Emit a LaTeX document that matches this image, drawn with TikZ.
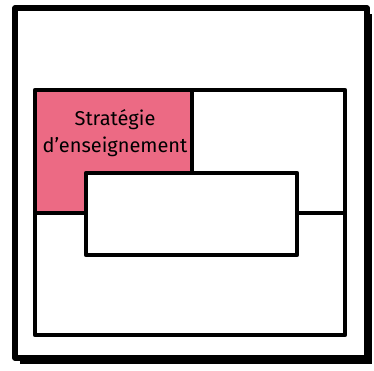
\documentclass[tikz,border=0pt]{standalone}
\usepackage{fontspec}
\setmainfont{Fira Sans}
\definecolor{pinkq}{HTML}{EC6A84}
\begin{document}
\begin{tikzpicture}[x=1pt,y=-1pt,
  frame/.style={draw=black,line width=5.5pt,line join=round,fill=white},
  inner/.style={draw=black,line width=4.5pt,line join=round},
  lab/.style={font=\fontsize{20}{27}\selectfont,align=center,text=black}]
\useasboundingbox (0,0) rectangle (374,370);
% outer frame with shadow
\fill[black] (20,14) rectangle (372,364);
\draw[frame] (15,8) rectangle (367,358);
% inner grid
\coordinate (tl) at (35,90);
\coordinate (br) at (345,335);
\fill[pinkq] (35,90) rectangle (192,213);
\draw[inner] (tl) rectangle (br);
\coordinate (vt) at (192,90);
\coordinate (vb) at (192,175);
\draw[inner] (vt) -- (vb);
\coordinate (hl) at (35,213);
\coordinate (hr) at (345,213);
\draw[inner] (hl) -- (hr);
% middle box
\node[inner,fill=white,minimum width=211pt,minimum height=82pt,inner sep=0pt] (mid) at (191.5,214) {};
% label
\node[lab] (strat) at (115,133) {Stratégie\\d’enseignement};
\end{tikzpicture}
\end{document}
